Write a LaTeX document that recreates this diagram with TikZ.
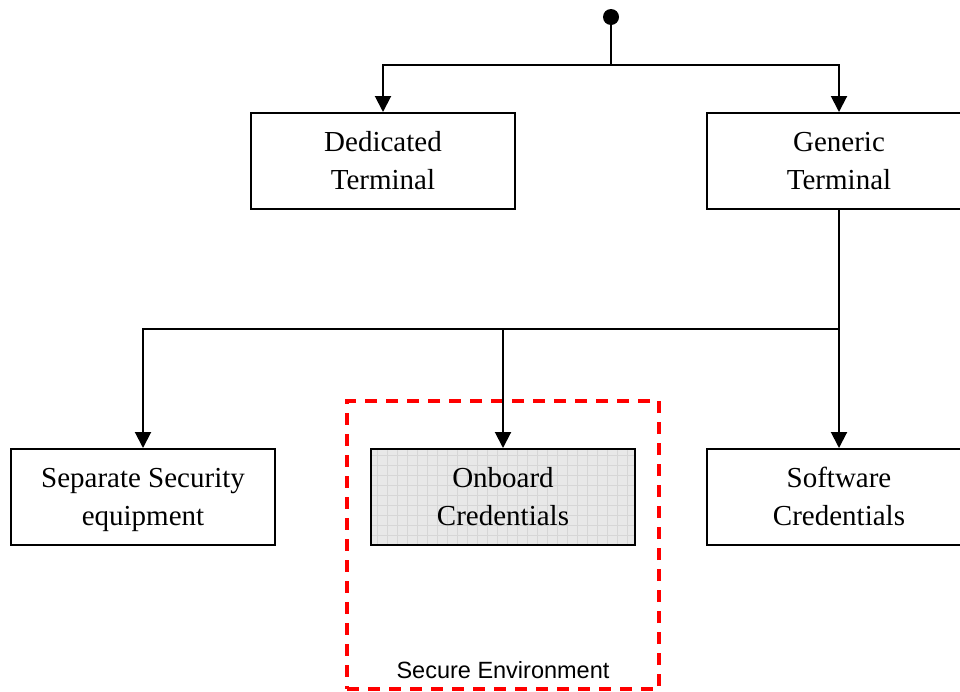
\documentclass[tikz,border=0pt]{standalone}
\usepackage{fontspec}
\setmainfont{Liberation Serif}
\newfontfamily\labelfont{Liberation Sans}
\usetikzlibrary{arrows.meta}

% two-line label with fixed first-line height and last-line depth
\newcommand{\twolines}[2]{\rule{0pt}{27pt}#1\\#2\rule[-9pt]{0pt}{9pt}}

\tikzset{
  box/.style={draw, line width=2pt, rectangle, minimum width=264pt, minimum height=96pt,
    align=center, inner sep=0pt, font=\fontsize{29}{38}\selectfont},
  link/.style={line width=2pt},
  arrowlink/.style={line width=2pt, -{Triangle[length=16pt,width=16pt]}},
  gridfill/.style={fill=gray!18,
    path picture={\draw[gray!32, line width=0.7pt, step=10pt]
      (path picture bounding box.south west) grid (path picture bounding box.north east);}},
  zone/.style={draw=red, line width=3.2pt, dash pattern=on 12pt off 9pt, rectangle,
    minimum width=312pt, minimum height=288pt, inner sep=0pt}
}

\begin{document}
\begin{tikzpicture}[x=1pt, y=-1pt]
  \useasboundingbox (0,0) rectangle (960,691);
  \clip (0,0) rectangle (960,691);

  % secure environment zone
  \node[zone] (zone) at (503,545) {};
  \node[font=\labelfont\fontsize{23.5}{28}\selectfont] (zonelabel) at (503,670) {Secure Environment};

  % root point
  \node[circle, fill=black, inner sep=0pt, minimum size=16pt] (root) at (611,17) {};
  \coordinate (top) at (611,65);

  % terminals
  \node[box] (ded) at (383,161) {\twolines{Dedicated}{Terminal}};
  \node[box] (gen) at (839,161) {\twolines{Generic}{Terminal}};

  % credential options
  \coordinate (mid) at (839,329);
  \node[box] (sep) at (143,497) {\twolines{Separate Security}{equipment}};
  \node[box, gridfill] (onb) at (503,497) {\twolines{Onboard}{Credentials}};
  \node[box] (soft) at (839,497) {\twolines{Software}{Credentials}};

  % connectors
  \draw[link] (root) -- (top);
  \draw[arrowlink] (top) -| (ded.north);
  \draw[arrowlink] (top) -| (gen.north);
  \draw[link] (gen.south) -- (mid);
  \draw[arrowlink] (mid) -| (sep.north);
  \draw[arrowlink] (mid) -| (onb.north);
  \draw[arrowlink] (mid) -- (soft.north);
\end{tikzpicture}
\end{document}
